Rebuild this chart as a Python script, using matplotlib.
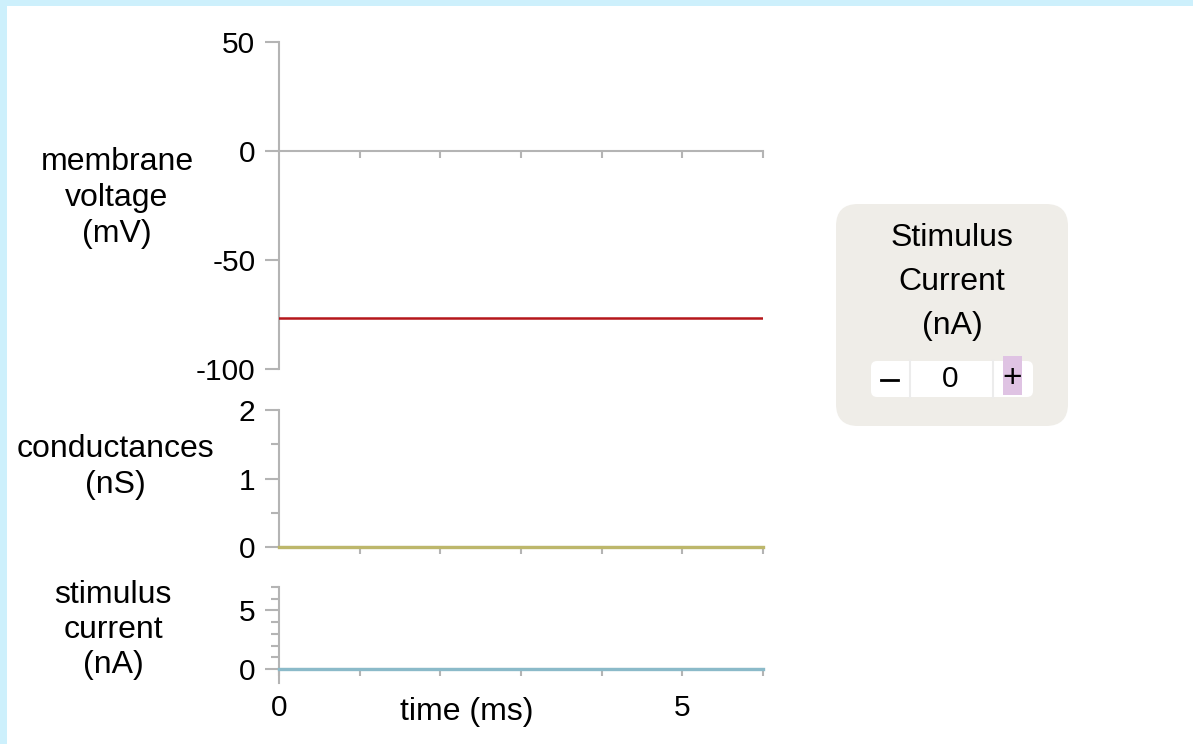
import matplotlib.pyplot as plt
from matplotlib.patches import Rectangle, FancyBboxPatch

# resting traces sampled once per ms
time_ms = [0, 1, 2, 3, 4, 5, 6]
voltage_mV = [-76.5, -76.5, -76.5, -76.5, -76.5, -76.5, -76.5]
conductance_nS = [0, 0, 0, 0, 0, 0, 0]
stimulus_nA = [0, 0, 0, 0, 0, 0, 0]
stim_setting = 0

W, H = 1193, 744
plt.rcParams['font.family'] = ['Liberation Sans', 'DejaVu Sans']
plt.rcParams['axes.unicode_minus'] = False
fig = plt.figure(figsize=(W / 100, H / 100), dpi=100)
fig.patch.set_facecolor('#cdf0fc')

GRAY = '#b4b4b4'


def px_axes(x0, y0, x1, y1, **kw):
    # axes placed by pixel corners (top-left origin)
    return fig.add_axes([x0 / W, 1 - y1 / H, (x1 - x0) / W, (y1 - y0) / H], **kw)


# background layer: white page, control box
bg = px_axes(0, 0, W, H, zorder=-5)
bg.set_xlim(0, W)
bg.set_ylim(H, 0)
bg.axis('off')
bg.add_patch(Rectangle((7, 6), W - 7, H - 6, color='white', lw=0))
bg.add_patch(FancyBboxPatch((858, 226), 188, 178, boxstyle='round,pad=22',
                            fc='#efede8', ec='none'))
bg.add_patch(FancyBboxPatch((877, 367), 150, 24, boxstyle='round,pad=6',
                            fc='white', ec='none'))
bg.plot([910, 910], [361, 397], color='#ececec', lw=1.5)
bg.plot([993, 993], [361, 397], color='#ececec', lw=1.5)
bg.add_patch(Rectangle((1003, 356), 19, 39, color='#dfc3e3', lw=0))
for y, s in [(238, 'Stimulus'), (282, 'Current'), (326, '(nA)')]:
    bg.text(952, y, s, ha='center', va='center', fontsize=23)
bg.plot([881, 898], [380, 380], color='black', lw=2)
bg.text(950, 379, str(stim_setting), ha='center', va='center', fontsize=21.5)
bg.text(1012, 378, '+', ha='center', va='center', fontsize=24)


def style(ax, ylim, major, minor, xticks):
    ax.set_facecolor('none')
    ax.set_xlim(0, 6)
    ax.set_ylim(*ylim)
    for side in ['top', 'right']:
        ax.spines[side].set_visible(False)
    for side in ['left', 'bottom']:
        ax.spines[side].set_color(GRAY)
        ax.spines[side].set_linewidth(1.5)
    ax.spines['bottom'].set_position(('data', 0))
    ax.set_yticks(major)
    ax.set_yticks(minor, minor=True)
    ax.set_xticks(xticks)
    ax.tick_params(axis='y', which='major', length=10, width=1.5, color=GRAY,
                   pad=7, labelsize=21.5)
    ax.tick_params(axis='y', which='minor', length=6, width=1.5, color=GRAY)
    ax.tick_params(axis='x', which='major', length=5, width=1.5, color=GRAY,
                   pad=13, labelsize=21.5)


ax_v = px_axes(279, 42, 763, 369)
style(ax_v, (-100, 50), [-100, -50, 0, 50], [], [1, 2, 3, 4, 5, 6])
ax_v.set_xticklabels([])
ax_v.plot(time_ms, voltage_mV, color='#b5161b', lw=1.8, zorder=3)

ax_g = px_axes(279, 410, 763, 547)
style(ax_g, (0, 2), [0, 1, 2], [0.5, 1.5], [1, 2, 3, 4, 5, 6])
ax_g.set_xticklabels([])
ax_g.plot(time_ms, conductance_nS, color='#bdb76b', lw=2.4, clip_on=False, zorder=3)

ax_s = px_axes(279, 587, 763, 669)
style(ax_s, (0, 7), [0, 5], [1, 2, 3, 4, 6, 7], [0, 1, 2, 3, 4, 5, 6])
ax_s.set_xticklabels(['0', '', '', '', '', '5', ''])
ax_s.spines['left'].set_bounds(-1.2, 7)
ax_s.plot(time_ms, stimulus_nA, color='#8bbac9', lw=2.4, clip_on=False, zorder=3)

fig.text(467 / W, 1 - 712 / H, 'time (ms)', ha='center', va='center', fontsize=23)
fig.text(117 / W, 1 - 198 / H, 'membrane\nvoltage\n(mV)', ha='center',
         va='center', fontsize=23, linespacing=1.25)
fig.text(115 / W, 1 - 467 / H, 'conductances\n(nS)', ha='center',
         va='center', fontsize=23, linespacing=1.25)
fig.text(113 / W, 1 - 630 / H, 'stimulus\ncurrent\n(nA)', ha='center',
         va='center', fontsize=23, linespacing=1.2)

fig.savefig('out.png', dpi=100, facecolor=fig.get_facecolor())
